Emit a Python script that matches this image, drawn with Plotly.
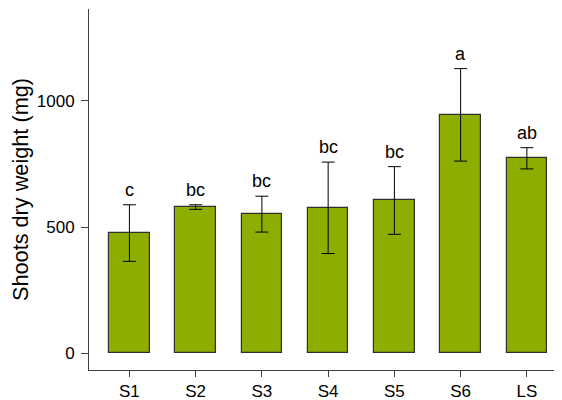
import plotly.graph_objects as go

categories = ["S1", "S2", "S3", "S4", "S5", "S6", "LS"]
means = [476, 579, 551, 576, 605, 944, 772]
errors = [112, 9, 71, 181, 134, 183, 42]
letters = ["c", "bc", "bc", "bc", "bc", "a", "ab"]
y_ticks = [0, 500, 1000]

FONT = "Liberation Sans, Arial, sans-serif"
AXIS_COLOR = "#404040"

fig = go.Figure()
fig.add_trace(go.Bar(
    x=list(range(len(categories))),
    y=means,
    width=0.61,
    marker=dict(color="#8dae00", line=dict(color="#303030", width=1.2)),
    error_y=dict(type="data", array=errors, visible=True, color="black",
                 thickness=1, width=6.5),
    showlegend=False,
))

for i, (m, e, lab) in enumerate(zip(means, errors, letters)):
    fig.add_annotation(x=i, y=m + e, text=lab, showarrow=False,
                       yanchor="bottom", yshift=3,
                       font=dict(family=FONT, size=18, color="black"))

# page body has an 8px margin, so the figure is sized/offset to compensate
fig.update_layout(
    width=554, height=392,
    margin=dict(l=81, r=0, t=1, b=30, autoexpand=False),
    plot_bgcolor="white", paper_bgcolor="white",
    font=dict(family=FONT, color="black"),
    bargap=0,
)
fig.update_xaxes(
    range=[-0.61, 6.53],
    tickmode="array", tickvals=list(range(len(categories))), ticktext=categories,
    showline=True, linecolor=AXIS_COLOR, linewidth=1,
    ticks="outside", ticklen=6, tickcolor=AXIS_COLOR,
    showgrid=False, zeroline=False,
    tickfont=dict(family=FONT, size=17, color="black"),
)
fig.update_yaxes(
    range=[-66, 1363],
    tickmode="array", tickvals=y_ticks, ticktext=[str(v) for v in y_ticks],
    showline=True, linecolor=AXIS_COLOR, linewidth=1,
    ticks="outside", ticklen=7, tickcolor=AXIS_COLOR, ticklabelstandoff=3,
    showgrid=False, zeroline=False,
    tickfont=dict(family=FONT, size=17, color="black"),
    title=dict(text="Shoots dry weight (mg)", font=dict(family=FONT, size=21.7, color="black"), standoff=12),
)

fig.write_html("out.html")
